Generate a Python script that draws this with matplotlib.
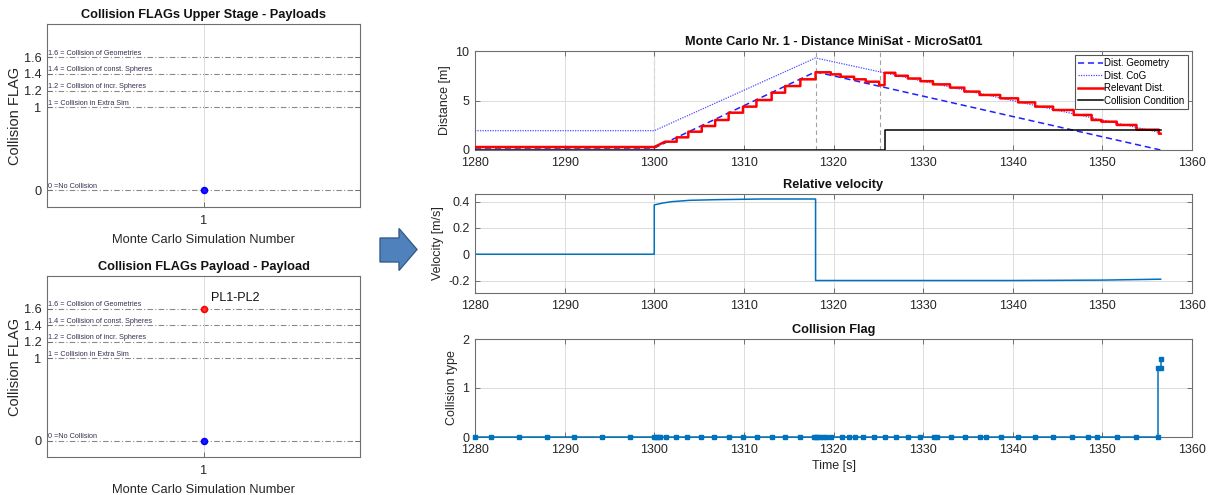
import numpy as np
import matplotlib
matplotlib.use("Agg")
import matplotlib.pyplot as plt
from matplotlib.patches import Polygon

plt.rcParams['font.family'] = ['Liberation Sans', 'DejaVu Sans']

# ---------------- data ----------------
flag_levels = [0, 1, 1.2, 1.4, 1.6]
flag_ticklabels = ['0', '1', '1.2', '1.4', '1.6']
flag_texts = ["0 =No Collision", "1 = Collision in Extra Sim",
              "1.2 = Collision of incr. Spheres", "1.4 = Collision of const. Spheres",
              "1.6 = Collision of Geometries"]
mc_runs = [1]
flag_upper_stage = [0]
flag_payload_blue = [0]
flag_payload_red = [1.6]
payload_pair_label = "PL1-PL2"

# distance panel
geom_t = [1280, 1300, 1318, 1356.5]
geom_v = [0.2, 0.2, 7.9, 0.0]
cog_t = [1280, 1300, 1318, 1356.5]
cog_v = [1.95, 1.95, 9.3, 1.75]
red_pre_t = [1280, 1300]
red_pre_v = [0.3, 0.3]
red_step_t = [1301.2, 1302.5, 1303.8, 1305.3, 1306.8, 1308.3, 1309.9, 1311.4, 1313.1,
              1314.6, 1316.3, 1318.0, 1319.7, 1320.8, 1322.3, 1323.6, 1325.1, 1325.7,
              1326.9, 1328.3, 1329.7, 1331.1, 1333.0, 1334.6, 1336.3, 1338.6, 1340.6,
              1342.5, 1344.5, 1346.8, 1348.8, 1349.9, 1351.6, 1353.8, 1356.3, 1356.5]
red_step_v = [0.84, 1.28, 1.85, 2.42, 3.03, 3.77, 4.38, 5.05, 5.79,
              6.46, 7.14, 7.85, 7.64, 7.40, 7.14, 6.90, 6.55, 7.80,
              7.50, 7.22, 6.95, 6.63, 6.30, 5.90, 5.56, 5.22, 4.81,
              4.38, 4.04, 3.54, 3.03, 2.86, 2.53, 2.05, 1.65, 1.65]
cond_t = [1280, 1325.7, 1325.7, 1356.5]
cond_v = [0, 0, 2, 2]
event_times = [1300, 1318, 1325.2]

# velocity panel
vel_t = [1280, 1300, 1300, 1301, 1302, 1304, 1307, 1312, 1318, 1318, 1340, 1350, 1356.5]
vel_v = [0, 0, 0.375, 0.39, 0.40, 0.41, 0.415, 0.42, 0.42, -0.2, -0.2, -0.197, -0.19]

# collision flag panel
cflag_t = [1280, 1281.8, 1284.9, 1288.0, 1291.1, 1294.2, 1297.3, 1300.0, 1300.2, 1300.4, 1300.6,
           1301.3, 1302.4, 1303.7, 1305.2, 1306.7, 1308.3, 1309.9, 1311.5, 1313.1, 1314.6,
           1316.3, 1317.8, 1318.0, 1318.2, 1318.5, 1318.8, 1319.2, 1319.7, 1320.9, 1321.7,
           1322.4, 1323.3, 1324.5, 1325.7, 1327.0, 1328.3, 1329.7, 1331.2, 1331.5, 1333.1,
           1334.7, 1336.4, 1337.0, 1338.7, 1340.6, 1342.5, 1344.5, 1346.6, 1348.4, 1349.4,
           1351.6, 1353.8, 1356.2, 1356.2, 1356.5, 1356.5]
cflag_v = [0] * (len(cflag_t) - 3) + [1.4, 1.4, 1.6]

# ---------------- layout ----------------
W, H = 1209, 495
fig = plt.figure(figsize=(W / 100, H / 100), dpi=100)
fig.patch.set_facecolor('white')

TXT = '#262626'
EDGE = '#6e6e6e'
GRID = '#dcdcdc'
MBLUE = '#0072BD'


def ax_px(l, t, r, b):
    return fig.add_axes([l / W, 1 - b / H, (r - l) / W, (b - t) / H])


def style(ax, fs=9):
    for s in ax.spines.values():
        s.set_color(EDGE)
        s.set_linewidth(0.8)
    ax.tick_params(direction='in', length=3.5, width=0.7, colors=EDGE,
                   labelcolor=TXT, labelsize=fs, top=True, right=True)
    ax.tick_params(axis='x', pad=5)
    ax.tick_params(axis='y', pad=4)


def flag_panel(ax, title, blue_vals, red_vals=None, red_label=None):
    style(ax, fs=9.2)
    ax.set_xlim(0, 2)
    ax.set_ylim(-0.2, 2.0)
    ax.set_xticks(mc_runs)
    ax.set_yticks(flag_levels)
    ax.set_yticklabels(flag_ticklabels)
    ax.grid(axis='x', color=GRID, lw=0.7)
    ax.tick_params(axis='x', top=False, pad=6)
    for lev, txt in zip(flag_levels, flag_texts):
        ax.axhline(lev, color='#8a8a8a', lw=0.8, ls=(0, (5, 2, 1, 2)), zorder=1)
        ax.text(0.005, lev + 0.005, txt, fontsize=5.2, color='#3b2d4f',
                ha='left', va='bottom', zorder=3)
    ax.plot(mc_runs, blue_vals, 'o', ms=4.2, mfc='#1a1aff', mec='blue', mew=1.2, zorder=4)
    if red_vals is not None:
        ax.plot(mc_runs, red_vals, 'o', ms=4.2, mfc='#ff3333', mec='red', mew=1.2, zorder=4)
        ax.text(mc_runs[0] + 0.05, red_vals[0] + 0.06, red_label, fontsize=9,
                color='#111111', ha='left', va='bottom')
    ax.set_title(title, fontsize=9.2, fontweight='bold', color='#111111', pad=4)
    ax.set_ylabel('Collision FLAG', fontsize=10.5, color=TXT, labelpad=1)
    ax.set_xlabel('Monte Carlo Simulation Number', fontsize=9.3, color=TXT, labelpad=5)


ax1 = ax_px(47, 24, 360, 207)
flag_panel(ax1, 'Collision FLAGs Upper Stage - Payloads', flag_upper_stage)
ax2 = ax_px(47, 276, 360, 457)
flag_panel(ax2, 'Collision FLAGs Payload - Payload', flag_payload_blue,
           flag_payload_red, payload_pair_label)

# arrow
arrow_px = [(380, 238), (399, 238), (399, 228.5), (417, 249.5), (399, 270.5),
            (399, 262), (380, 262)]
fig.add_artist(Polygon([(x / W, 1 - y / H) for x, y in arrow_px], closed=True,
                       transform=fig.transFigure, facecolor='#4F81BD',
                       edgecolor='#385D8A', lw=1))

XT = [1280, 1290, 1300, 1310, 1320, 1330, 1340, 1350, 1360]

# distance
ax3 = ax_px(475, 51, 1192, 150)
style(ax3)
ax3.set_xlim(1280, 1360)
ax3.set_ylim(0, 10)
ax3.set_xticks(XT)
ax3.set_yticks([0, 5, 10])
ax3.grid(color=GRID, lw=0.7)
for et in event_times:
    ax3.axvline(et, color='#a0a0a0', lw=0.8, ls=(0, (4, 3)), zorder=1)
rt = list(red_pre_t)
rv = list(red_pre_v)
rt.append(red_step_t[0]); rv.append(red_step_v[0])
for i in range(1, len(red_step_t)):
    rt += [red_step_t[i], red_step_t[i]]
    rv += [red_step_v[i - 1], red_step_v[i]]
ax3.plot(geom_t, geom_v, color='#1f1fff', lw=1.1, ls=(0, (4, 2.5)), label='Dist. Geometry', zorder=3)
ax3.plot(cog_t, cog_v, color='#4d4dff', lw=0.9, ls=(0, (1, 1)), label='Dist. CoG', zorder=3)
ax3.plot(rt, rv, color='red', lw=1.8, label='Relevant Dist.', zorder=4)
ax3.plot(cond_t, cond_v, color='black', lw=1.1, label='Collision Condition', zorder=5)
ax3.set_ylabel('Distance [m]', fontsize=9, color=TXT, labelpad=3)
ax3.set_title('Monte Carlo Nr. 1 - Distance MiniSat - MicroSat01', fontsize=9.2,
              fontweight='bold', color='#111111', pad=4)
leg = ax3.legend(loc='upper right', fontsize=7, frameon=True, fancybox=False,
                 edgecolor='#555555', framealpha=1, borderpad=0.3, labelspacing=0.25,
                 handlelength=2.6, handletextpad=0.15, borderaxespad=0.45)
leg.get_frame().set_linewidth(0.8)

# velocity
ax4 = ax_px(475, 194, 1192, 293)
style(ax4)
ax4.set_xlim(1280, 1360)
ax4.set_ylim(-0.295, 0.458)
ax4.set_xticks(XT)
ax4.set_yticks([-0.2, 0, 0.2, 0.4])
ax4.set_yticklabels(['-0.2', '0', '0.2', '0.4'])
ax4.grid(color=GRID, lw=0.7)
ax4.plot(vel_t, vel_v, color=MBLUE, lw=1.1)
ax4.set_ylabel('Velocity [m/s]', fontsize=9, color=TXT, labelpad=3)
ax4.set_title('Relative velocity', fontsize=9.2, fontweight='bold', color='#111111', pad=4)

# collision flag
ax5 = ax_px(475, 339, 1192, 437)
style(ax5)
ax5.set_xlim(1280, 1360)
ax5.set_ylim(0, 2)
ax5.set_xticks(XT)
ax5.set_yticks([0, 1, 2])
ax5.grid(color=GRID, lw=0.7)
ax5.plot(cflag_t, cflag_v, color=MBLUE, lw=1.1, marker='s', ms=2.2, mec=MBLUE, mfc=MBLUE,
         clip_on=False, zorder=4)
ax5.set_ylabel('Collision type', fontsize=9, color=TXT, labelpad=3)
ax5.set_xlabel('Time [s]', fontsize=9, color=TXT, labelpad=3)
ax5.set_title('Collision Flag', fontsize=9.2, fontweight='bold', color='#111111', pad=4)

fig.savefig('out.png', dpi=100)
